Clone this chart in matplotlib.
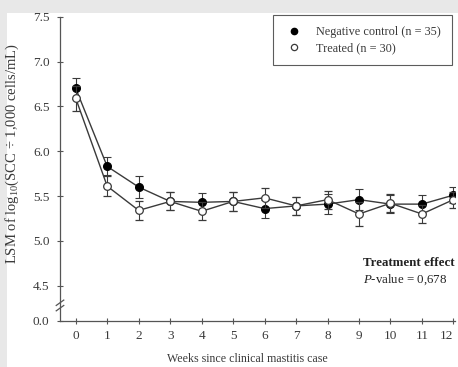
import matplotlib.pyplot as plt
import matplotlib.patches as mpatches
from matplotlib.lines import Line2D
import numpy as np

plt.rcParams['font.family'] = ['Liberation Serif', 'DejaVu Serif']
plt.rcParams['mathtext.fontset'] = 'custom'
plt.rcParams['mathtext.rm'] = 'Liberation Serif'
plt.rcParams['mathtext.it'] = 'Liberation Serif:italic'

# data
weeks = np.arange(0, 13)
control = [6.70, 5.83, 5.60, 5.44, 5.43, 5.44, 5.36, 5.39, 5.41, 5.46, 5.41, 5.41, 5.51]
control_err = [0.12, 0.10, 0.12, 0.10, 0.10, 0.11, 0.10, 0.10, 0.11, 0.12, 0.10, 0.10, 0.09]
treated = [6.59, 5.61, 5.34, 5.44, 5.33, 5.44, 5.48, 5.39, 5.46, 5.30, 5.42, 5.30, 5.46]
treated_err = [0.14, 0.11, 0.11, 0.10, 0.10, 0.11, 0.11, 0.10, 0.10, 0.13, 0.10, 0.10, 0.09]
ytick_vals = [4.5, 5.0, 5.5, 6.0, 6.5, 7.0, 7.5]
y_floor = 4.11  # shown as 0.0 after the axis break

ink = '#3a3a3a'

fig = plt.figure(figsize=(4.58, 3.67), dpi=100, facecolor='#e8e8e8')
fig.patches.append(mpatches.Rectangle((7 / 458, 0), 1, 1 - 13 / 367,
                                      transform=fig.transFigure,
                                      facecolor='white', edgecolor='none', zorder=-5))

ax = fig.add_axes([60 / 458, 1 - 320.7 / 367, (455 - 60) / 458, (320.7 - 16.7) / 367])
ax.set_facecolor('none')

ax.errorbar(weeks, control, yerr=control_err, color=ink, lw=1.0, marker='o',
            ms=5.5, mfc='black', mec='black', capsize=3, elinewidth=0.8,
            capthick=0.8, zorder=3)
ax.errorbar(weeks, treated, yerr=treated_err, color=ink, lw=1.0, marker='o',
            ms=5.5, mfc='white', mec=ink, mew=0.9, capsize=3, elinewidth=0.8,
            capthick=0.8, zorder=4)

ax.set_xlim(-0.5, 12.05)
ax.set_ylim(y_floor, 7.5)
ax.set_xticks(weeks)
ax.set_xticklabels([str(w) for w in weeks])
ax.set_yticks([y_floor] + ytick_vals)
ax.set_yticklabels(['0.0'] + ['%.1f' % v for v in ytick_vals])

for s in ['top', 'right']:
    ax.spines[s].set_visible(False)
for s in ['left', 'bottom']:
    ax.spines[s].set_color('#555555')
    ax.spines[s].set_linewidth(0.9)
ax.tick_params(axis='both', direction='inout', length=5, width=0.8,
               color='#555555', labelsize=9.5, labelcolor=ink)
ax.tick_params(axis='x', pad=4)
ax.tick_params(axis='y', pad=5)
# keep the last week label inside the frame
ax.get_xticklabels()[-1].set_horizontalalignment('right')

# axis break marks
for yb in (4.25, 4.31):
    ax.plot([-0.62, -0.38], [yb - 0.03, yb + 0.03], color='#555555', lw=0.9,
            clip_on=False, zorder=5)

ax.set_ylabel('LSM of log$_{10}$(SCC \u00f7 1,000 cells/mL)', fontsize=10.5,
              color=ink)
ax.yaxis.set_label_coords(-0.098, 0.55)

fig.text(247 / 458, 2 / 367, 'Weeks since clinical mastitis case',
         ha='center', va='bottom', fontsize=8.6, color=ink)

ax.text(9.12, 4.75, 'Treatment effect', fontsize=9.3, fontweight='bold',
        color='#222222', ha='left', va='center')
ax.text(9.12, 4.57, '$\\mathit{P}$-value = 0,678', fontsize=9.3, color='#222222',
        ha='left', va='center')

handles = [
    Line2D([], [], ls='none', marker='o', ms=4.5, mfc='black', mec='black'),
    Line2D([], [], ls='none', marker='o', ms=4.5, mfc='white', mec=ink, mew=0.9),
]
labels = ['Negative control (n = 35)', 'Treated (n = 30)']
leg = ax.legend(handles, labels, loc='upper right',
                bbox_to_anchor=(452 / 458, 1 - 15 / 367),
                bbox_transform=fig.transFigure, fontsize=8.8, frameon=True,
                fancybox=False, handlelength=1.6, handletextpad=1.0,
                borderpad=0.9, labelspacing=0.35, borderaxespad=0)
leg.get_frame().set_edgecolor('#333333')
leg.get_frame().set_linewidth(0.8)
for t in leg.get_texts():
    t.set_color(ink)

fig.savefig('out.png', dpi=100, facecolor=fig.get_facecolor())
